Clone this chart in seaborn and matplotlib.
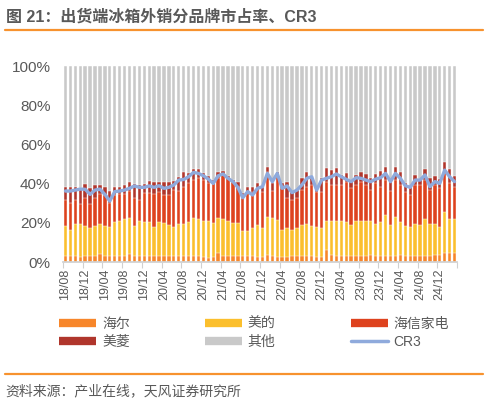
import numpy as np
import pandas as pd
import seaborn as sns
import matplotlib.pyplot as plt
from matplotlib.lines import Line2D

# monthly, 18/08 .. 25/03
months = pd.date_range("2018-08-01", periods=80, freq="MS").strftime("%y/%m").tolist()

# brand shares, %
haier = [3.0, 3.0, 3.0, 2.8, 3.2, 3.0, 3.0, 4.0, 3.0, 3.0,
         3.0, 3.0, 3.2, 4.2, 3.0, 3.0, 3.0, 3.0, 3.0, 3.0,
         3.0, 3.0, 3.0, 3.0, 3.0, 3.0, 3.0, 3.0, 2.5, 2.0,
         2.5, 4.5, 3.0, 3.0, 3.0, 3.0, 3.0, 3.0, 3.0, 2.5,
         2.5, 3.5, 3.0, 2.5, 2.5, 2.5, 3.0, 3.0, 3.0, 3.0,
         3.0, 2.5, 2.5, 6.0, 3.5, 3.0, 3.0, 3.0, 3.0, 3.0,
         3.0, 3.0, 3.5, 3.0, 3.0, 3.0, 3.0, 3.0, 3.5, 3.0,
         3.0, 3.0, 3.0, 3.0, 3.0, 3.5, 3.5, 4.5, 4.5, 4.5]

midea = [15.5, 13.3, 16.4, 16.6, 15.3, 14.5, 15.5, 15.4, 15.5, 15.0,
         17.6, 18.1, 18.7, 18.4, 15.5, 18.1, 17.6, 17.2, 15.0, 17.6,
         17.1, 15.9, 15.0, 16.4, 16.4, 17.6, 19.3, 18.8, 18.6, 18.9,
         17.6, 18.1, 18.9, 17.9, 17.1, 17.1, 12.8, 12.8, 14.5, 16.4,
         15.0, 19.6, 19.3, 18.9, 13.8, 14.7, 13.3, 14.2, 15.9, 16.2,
         15.5, 15.5, 14.7, 14.9, 17.4, 17.9, 17.9, 17.2, 15.9, 17.9,
         17.9, 17.9, 17.4, 16.4, 17.6, 21.0, 15.9, 20.1, 17.1, 15.4,
         15.0, 16.4, 15.9, 18.9, 16.4, 15.9, 14.5, 20.8, 17.4, 17.3]

hisense = [13.1, 14.0, 12.2, 10.0, 14.0, 11.9, 14.0, 15.3, 15.7, 11.9,
           13.6, 13.4, 12.6, 13.6, 14.0, 10.5, 14.4, 14.8, 16.7, 15.3,
           14.1, 15.3, 18.7, 16.8, 19.0, 19.5, 19.5, 20.9, 20.7, 19.2,
           20.0, 20.1, 22.5, 21.8, 20.9, 18.3, 16.7, 20.1, 18.4, 18.7,
           18.4, 23.0, 13.7, 23.0, 21.3, 15.3, 15.3, 15.3, 17.8, 19.2,
           20.8, 17.9, 18.7, 20.1, 18.4, 18.4, 18.4, 20.8, 18.7, 18.4,
           20.1, 18.4, 15.8, 20.7, 17.8, 17.8, 17.3, 18.7, 18.7, 17.5,
           16.2, 19.9, 20.4, 19.9, 17.3, 19.9, 19.6, 21.6, 18.2, 16.6]

meiling = [6.7, 8.0, 6.7, 8.2, 7.3, 8.2, 6.8, 4.6, 4.1, 6.3,
           4.1, 3.8, 4.8, 4.4, 7.3, 7.7, 4.8, 6.5, 5.9, 4.7,
           6.4, 6.4, 4.6, 7.3, 7.3, 5.1, 5.6, 4.7, 3.4, 3.9,
           1.7, 3.4, 2.1, 1.3, 0.8, 2.6, 2.5, 2.2, 2.5, 2.5,
           2.5, 2.5, 4.1, 1.7, 2.5, 8.5, 3.9, 4.2, 6.0, 7.7,
           4.7, 2.5, 6.8, 6.8, 7.6, 8.5, 5.1, 4.6, 4.2, 4.9,
           5.1, 5.7, 6.3, 4.7, 8.1, 6.7, 5.2, 6.7, 6.8, 4.6,
           4.2, 4.9, 3.2, 5.6, 6.3, 4.5, 4.9, 3.9, 7.1, 5.6]

cr3 = [36.2, 36.2, 36.7, 37.2, 37.1, 34.5, 36.7, 37.2, 34.5, 31.1,
       35.9, 36.2, 36.7, 37.6, 38.8, 38.1, 38.1, 38.8, 38.1, 38.9,
       37.6, 38.1, 39.3, 41.8, 42.1, 43.5, 45.7, 45.2, 44.0, 42.3,
       40.1, 44.0, 44.9, 42.7, 41.0, 38.1, 32.8, 35.9, 34.2, 37.6,
       38.4, 45.2, 41.0, 45.2, 37.6, 38.8, 35.4, 36.7, 39.3, 42.7,
       43.5, 36.7, 41.8, 42.7, 43.5, 44.9, 43.5, 42.2, 41.0, 43.0,
       42.7, 41.8, 41.0, 42.3, 43.0, 45.2, 41.0, 45.2, 42.7, 38.9,
       38.1, 41.8, 41.8, 44.4, 38.4, 41.0, 40.1, 46.9, 43.5, 41.0]

brands = ["海尔", "美的", "海信家电", "美菱", "其他"]
palette = {"海尔": "#F7862A", "美的": "#FBBF2D", "海信家电": "#DE421E",
           "美菱": "#B0362C", "其他": "#C9C9C9", "CR3": "#8FAADC"}

df = pd.DataFrame({"month": months, "海尔": haier, "美的": midea,
                   "海信家电": hisense, "美菱": meiling})
df["其他"] = 100 - df[brands[:4]].sum(axis=1)

# stacked heights
stack = df[brands].cumsum(axis=1)
stack["month"] = months

sns.set_theme(style="white")
plt.rcParams["font.family"] = ["Liberation Sans", "Noto Sans CJK SC", "DejaVu Sans"]
grey = "#595959"

fig = plt.figure(figsize=(4.88, 4.03), dpi=100)
ax = fig.add_axes([63 / 488, 1 - 262 / 403, 394 / 488, 196 / 403])

for b in reversed(brands):
    sns.barplot(data=stack, x="month", y=b, color=palette[b], saturation=1,
                width=0.68, edgecolor="white", linewidth=0.3, ax=ax)

sns.lineplot(x=np.arange(len(months)), y=cr3, color=palette["CR3"],
             linewidth=2.4, ax=ax)

ax.set_xlim(-0.5, len(months) - 0.5)
ax.set_ylim(0, 100)
ax.set_xlabel("")
ax.set_ylabel("")
ax.set_yticks(range(0, 101, 20))
ax.set_yticklabels([f"{v}%" for v in range(0, 101, 20)], fontsize=11, color=grey)
ax.set_xticks(range(0, len(months), 4))
ax.set_xticklabels(months[::4], rotation=90, fontsize=9, color=grey)
ax.set_xticks(np.arange(-0.5, len(months), 4), minor=True)
ax.tick_params(axis="x", which="major", length=0, pad=5)
ax.tick_params(axis="x", which="minor", length=4, color="#D0D0D0", width=0.8,
               bottom=True)
ax.tick_params(axis="y", length=0, pad=9)
for s in ["top", "right", "left"]:
    ax.spines[s].set_visible(False)
ax.spines["bottom"].set_color("#D0D0D0")

# legend, filled column by column
bar_h = lambda c: Line2D([0], [0], color=c, lw=6, solid_capstyle="butt")
handles = [bar_h(palette["海尔"]), bar_h(palette["美菱"]),
           bar_h(palette["美的"]), bar_h(palette["其他"]),
           bar_h(palette["海信家电"]),
           Line2D([0], [0], color=palette["CR3"], lw=2.5)]
labels = ["海尔", "美菱", "美的", "其他", "海信家电", "CR3"]
fig.legend(handles, labels, ncol=3, loc="upper left",
           bbox_to_anchor=(52 / 488, 1 - 310 / 403), frameon=False,
           fontsize=10, handlelength=2.7, handletextpad=0.4,
           columnspacing=5.4, labelspacing=0.3, borderpad=0,
           labelcolor=grey)

fig.text(6 / 488, 1 - 17 / 403, "图 21：出货端冰箱外销分品牌市占率、CR3",
         fontsize=11.5, fontweight="bold", color=grey, va="center")
fig.add_artist(Line2D([5 / 488, 483 / 488], [1 - 30 / 403] * 2,
                      color="#F7922E", lw=1.6))
fig.add_artist(Line2D([5 / 488, 483 / 488], [1 - 374 / 403] * 2,
                      color="#F7922E", lw=1.6))
fig.text(5 / 488, 1 - 391 / 403, "资料来源：产业在线，天风证券研究所",
         fontsize=10, color=grey, va="center")

fig.savefig("out.png", dpi=100)
